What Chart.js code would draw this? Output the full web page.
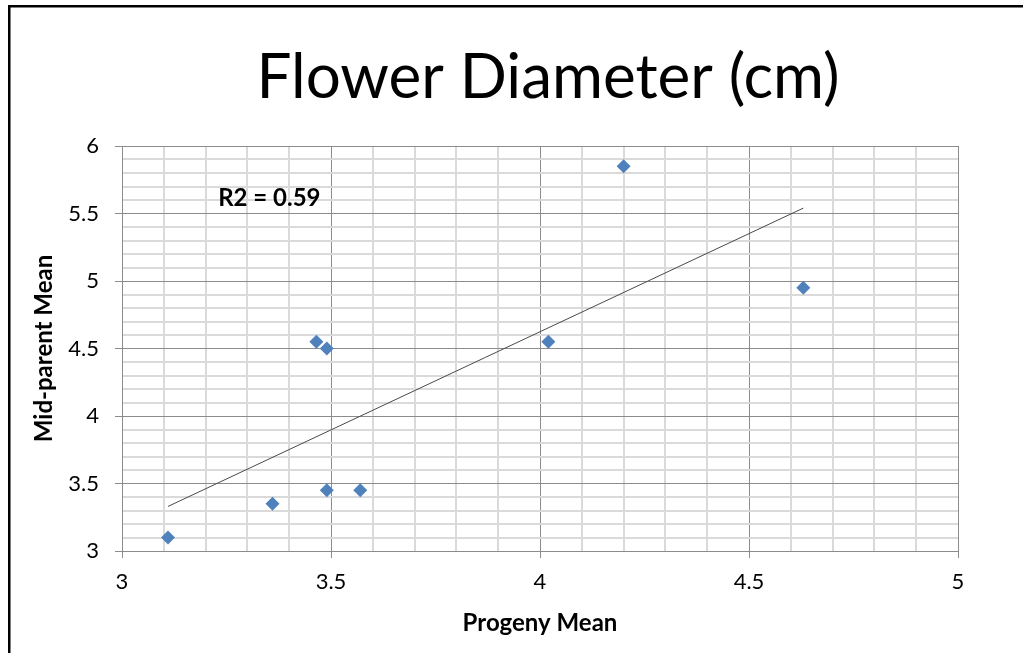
<!DOCTYPE html>
<html>
<head>
<meta charset="utf-8">
<script src="https://cdn.jsdelivr.net/npm/chart.js@4/dist/chart.umd.min.js"></script>
<style>
  html, body { margin: 0; padding: 0; background: #fff; }
  #wrap { position: relative; width: 1023px; height: 653px; }
</style>
</head>
<body>
<div id="wrap"><canvas id="chart" width="1023" height="653"></canvas></div>
<script>
(function () {
  "use strict";

  /* ── data ── */
  const progenyMean   = [3.11, 3.36, 3.465, 3.49, 3.49, 3.57, 4.02, 4.20, 4.63];
  const midParentMean = [3.10, 3.35, 4.55,  4.50, 3.45, 3.45, 4.55, 5.85, 4.95];
  const trendX = [3.11, 4.63];
  const trendY = [3.33, 5.54];
  const xRange = [3, 5];
  const yRange = [3, 6];

  const TITLE = "Flower Diameter (cm)";
  const X_TITLE = "Progeny Mean";
  const Y_TITLE = "Mid-parent Mean";
  const R2_TEXT = "R2 = 0.59";
  const R2_AT = [3.23, 5.61];

  /* ── styling ── */
  const FONT = "Lato, 'Open Sans', sans-serif";
  const BLUE = "#4f81bd";
  const MAJOR = "#8c8c8c";
  const MINOR = "#dadada";

  function isMajor(v) { return Math.abs(v * 2 - Math.round(v * 2)) < 1e-6; }
  function fmtTick(v) { return isMajor(v) ? String(Math.round(v * 2) / 2) : ""; }

  function gridCfg() {
    return {
      color: function (c) { return isMajor(c.tick.value) ? MAJOR : MINOR; },
      lineWidth: function (c) { return isMajor(c.tick.value) ? 1 : 2; },
      tickColor: function (c) { return isMajor(c.tick.value) ? MAJOR : "rgba(0,0,0,0)"; },
      tickLength: 7,
      drawTicks: true,
    };
  }

  /* ── extras: frame, title, R² label ── */
  const extras = {
    id: "extras",
    beforeDraw: function (chart) {
      var ctx = chart.ctx;
      ctx.save();
      ctx.fillStyle = "#fff";
      ctx.fillRect(0, 0, chart.width, chart.height);
      ctx.restore();
    },
    afterDraw: function (chart) {
      var ctx = chart.ctx;
      ctx.save();
      // outer frame (left + top only are visible)
      ctx.strokeStyle = "#000";
      ctx.lineWidth = 2.5;
      ctx.beginPath();
      ctx.moveTo(9.25, chart.height + 5);
      ctx.lineTo(9.25, 6.25);
      ctx.lineTo(chart.width + 5, 6.25);
      ctx.stroke();

      // chart title
      ctx.fillStyle = "#000";
      ctx.textAlign = "center";
      ctx.textBaseline = "alphabetic";
      ctx.font = "62px " + FONT;
      ctx.fillText(TITLE, 548, 98);

      // R² label
      var sx = chart.scales.x, sy = chart.scales.y;
      ctx.textAlign = "left";
      ctx.textBaseline = "middle";
      ctx.font = "bold 24px " + FONT;
      ctx.fillText(R2_TEXT, sx.getPixelForValue(R2_AT[0]), sy.getPixelForValue(R2_AT[1]));
      ctx.restore();
    },
  };

  const points = progenyMean.map(function (x, i) { return { x: x, y: midParentMean[i] }; });
  const trend = trendX.map(function (x, i) { return { x: x, y: trendY[i] }; });

  new Chart(document.getElementById("chart").getContext("2d"), {
    type: "scatter",
    data: {
      datasets: [
        {
          label: "Trend",
          data: trend,
          showLine: true,
          borderColor: "#4a4a4a",
          borderWidth: 1,
          pointRadius: 0,
          order: 2,
        },
        {
          label: Y_TITLE,
          data: points,
          pointStyle: "rectRot",
          pointRadius: 7,
          pointHoverRadius: 7,
          backgroundColor: BLUE,
          borderColor: BLUE,
          borderWidth: 0,
          order: 1,
        },
      ],
    },
    options: {
      responsive: false,
      animation: false,
      layout: { padding: { left: 0, top: 146, right: 65, bottom: 0 } },
      plugins: {
        legend: { display: false },
        tooltip: { enabled: false },
        title: { display: false },
      },
      scales: {
        x: {
          type: "linear",
          min: xRange[0],
          max: xRange[1],
          afterFit: function (s) { s.height = 102; },
          grid: gridCfg(),
          border: { display: true, color: MAJOR, width: 1 },
          ticks: {
            stepSize: 0.1,
            maxTicksLimit: 100,
            autoSkip: false,
            maxRotation: 0,
            padding: 11,
            color: "#000",
            font: { family: FONT, size: 22 },
            callback: fmtTick,
          },
          title: {
            display: true,
            text: X_TITLE,
            color: "#000",
            font: { family: FONT, size: 24, weight: "bold" },
            padding: { top: 0, bottom: 15 },
          },
        },
        y: {
          type: "linear",
          min: yRange[0],
          max: yRange[1],
          afterFit: function (s) { s.width = 122; },
          grid: gridCfg(),
          border: { display: true, color: MAJOR, width: 1 },
          ticks: {
            stepSize: 0.1,
            maxTicksLimit: 100,
            autoSkip: false,
            padding: 16,
            color: "#000",
            font: { family: FONT, size: 22 },
            callback: fmtTick,
          },
          title: {
            display: true,
            text: Y_TITLE,
            color: "#000",
            font: { family: FONT, size: 24, weight: "bold" },
            padding: { top: 30, bottom: 0 },
          },
        },
      },
    },
    plugins: [extras],
  });
})();
</script>
</body>
</html>
